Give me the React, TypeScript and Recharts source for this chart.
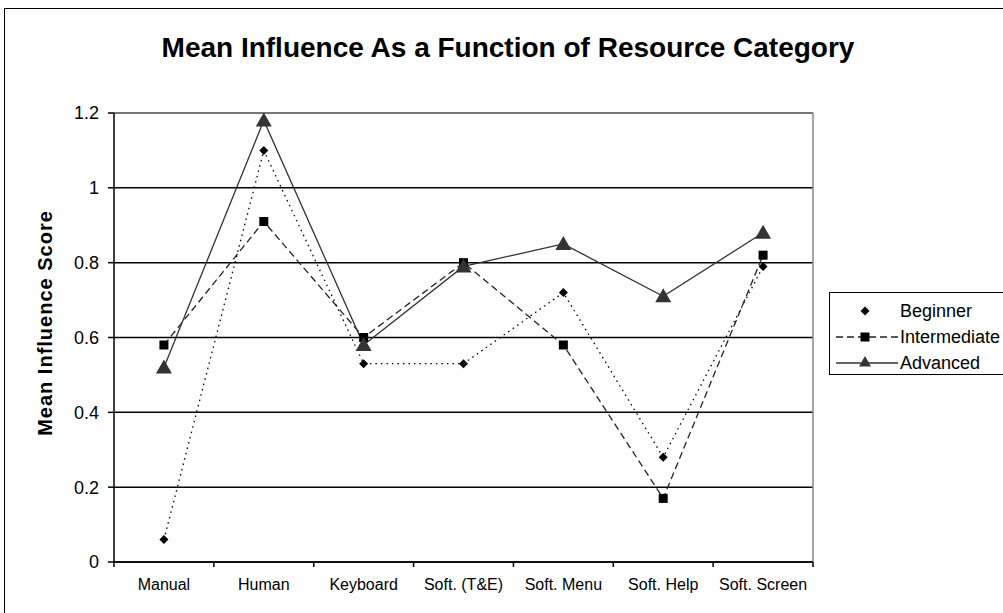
import React from 'react';
import { LineChart, Line, XAxis, YAxis, CartesianGrid, ReferenceLine } from 'recharts';

const categories = ['Manual', 'Human', 'Keyboard', 'Soft. (T&E)', 'Soft. Menu', 'Soft. Help', 'Soft. Screen'];
const beginner = [0.06, 1.1, 0.53, 0.53, 0.72, 0.28, 0.79];
const intermediate = [0.58, 0.91, 0.6, 0.8, 0.58, 0.17, 0.82];
const advanced = [0.52, 1.18, 0.58, 0.79, 0.85, 0.71, 0.88];
const yTicks = [0, 0.2, 0.4, 0.6, 0.8, 1, 1.2];
const seriesNames = ['Beginner', 'Intermediate', 'Advanced'];
const titleText = 'Mean Influence As a Function of Resource Category';
const yLabelText = 'Mean Influence Score';

const data = categories.map((c, i) => ({
  x: i + 0.5,
  name: c,
  beginner: beginner[i],
  intermediate: intermediate[i],
  advanced: advanced[i],
}));

const xTicks: number[] = [];
for (let i = 0; i <= categories.length; i++) {
  xTicks.push(i);
  if (i < categories.length) xTicks.push(i + 0.5);
}

const FONT = 'Liberation Sans, Arial, sans-serif';

const XTick = (props: any) => {
  const { x, y, payload } = props;
  const v = payload.value;
  if (Number.isInteger(v)) {
    return <line x1={x} x2={x} y1={y - 8} y2={y - 3} stroke="#000" strokeWidth={1.5} />;
  }
  const idx = Math.floor(v);
  return (
    <text x={x} y={y + 20} textAnchor="middle" fontSize={16} fontFamily={FONT} fill="#000">
      {categories[idx]}
    </text>
  );
};

const Diamond = (props: any) => {
  const { cx, cy } = props;
  if (cx == null || cy == null) return null;
  return <path d={`M${cx},${cy - 4.5}L${cx + 4.5},${cy}L${cx},${cy + 4.5}L${cx - 4.5},${cy}Z`} fill="#000" />;
};
const Square = (props: any) => {
  const { cx, cy } = props;
  if (cx == null || cy == null) return null;
  return <rect x={cx - 4.5} y={cy - 4.5} width={9} height={9} fill="#000" />;
};
const Triangle = (props: any) => {
  const { cx, cy, s = 1 } = props;
  if (cx == null || cy == null) return null;
  return <path d={`M${cx},${cy - 8 * s}L${cx + 8 * s},${cy + 6 * s}L${cx - 8 * s},${cy + 6 * s}Z`} fill="#333" />;
};

export default function App() {
  return (
    <div style={{ position: 'absolute', left: 0, top: 0, width: 1003, height: 613, background: '#fff', overflow: 'hidden' }}>
      <div style={{ position: 'absolute', left: 4, top: 8, width: 1100, height: 700, borderTop: '1.5px solid #000', borderLeft: '1.5px solid #000', boxSizing: 'border-box' }} />
      <div style={{ position: 'absolute', left: 0, top: 0 }}>
        <LineChart width={1003} height={613} data={data} margin={{ top: 113, right: 190, bottom: 21, left: 54 }}>
          <CartesianGrid vertical={false} stroke="#000" strokeWidth={1.5} />
          <XAxis
            type="number"
            dataKey="x"
            domain={[0, categories.length]}
            ticks={xTicks}
            interval={0}
            tick={<XTick />}
            tickLine={false}
            axisLine={{ stroke: '#000', strokeWidth: 1.5 }}
            height={30}
          />
          <YAxis
            type="number"
            domain={[0, 1.2]}
            ticks={yTicks}
            interval={0}
            width={60}
            axisLine={{ stroke: '#000', strokeWidth: 1.5 }}
            tickLine={{ stroke: '#000', strokeWidth: 1.5 }}
            tickSize={6}
            tickMargin={9}
            tick={{ fontSize: 18, fontFamily: FONT, fill: '#000' }}
          />
          <ReferenceLine x={categories.length} stroke="#888" strokeWidth={1.5} />
          <ReferenceLine y={1.2} stroke="#888" strokeWidth={1.5} />
          <Line dataKey="beginner" name={seriesNames[0]} stroke="#000" strokeWidth={1.3} strokeDasharray="1.5 4" dot={<Diamond />} isAnimationActive={false} />
          <Line dataKey="intermediate" name={seriesNames[1]} stroke="#222" strokeWidth={1.3} strokeDasharray="7 4" dot={<Square />} isAnimationActive={false} />
          <Line dataKey="advanced" name={seriesNames[2]} stroke="#333" strokeWidth={1.3} dot={<Triangle />} isAnimationActive={false} />
        </LineChart>
      </div>
      <svg width={1003} height={613} style={{ position: 'absolute', left: 0, top: 0, pointerEvents: 'none' }}>
        <text x={508} y={57} textAnchor="middle" fontSize={28} fontWeight="bold" fontFamily={FONT} fill="#000">
          {titleText}
        </text>
        <text transform="translate(52,323) rotate(-90)" textAnchor="middle" fontSize={20} fontWeight="bold" letterSpacing={1} fontFamily={FONT} fill="#000">
          {yLabelText}
        </text>
      </svg>
      <div style={{ position: 'absolute', left: 829, top: 292, width: 200, height: 83, border: '1.5px solid #000', boxSizing: 'border-box' }}>
        <svg width={200} height={80} style={{ position: 'absolute', left: 0, top: 0 }}>
          <g>
            <Diamond cx={35} cy={18} />
            <text x={70} y={24} fontSize={18} fontFamily={FONT} fill="#000">{seriesNames[0]}</text>
          </g>
          <g>
            <line x1={6} x2={68} y1={44} y2={44} stroke="#222" strokeWidth={1.3} strokeDasharray="7 4" />
            <Square cx={35} cy={44} />
            <text x={70} y={50} fontSize={18} fontFamily={FONT} fill="#000">{seriesNames[1]}</text>
          </g>
          <g>
            <line x1={6} x2={68} y1={70} y2={70} stroke="#333" strokeWidth={1.3} />
            <Triangle cx={35} cy={69} s={0.75} />
            <text x={70} y={76} fontSize={18} fontFamily={FONT} fill="#000">{seriesNames[2]}</text>
          </g>
        </svg>
      </div>
    </div>
  );
}
